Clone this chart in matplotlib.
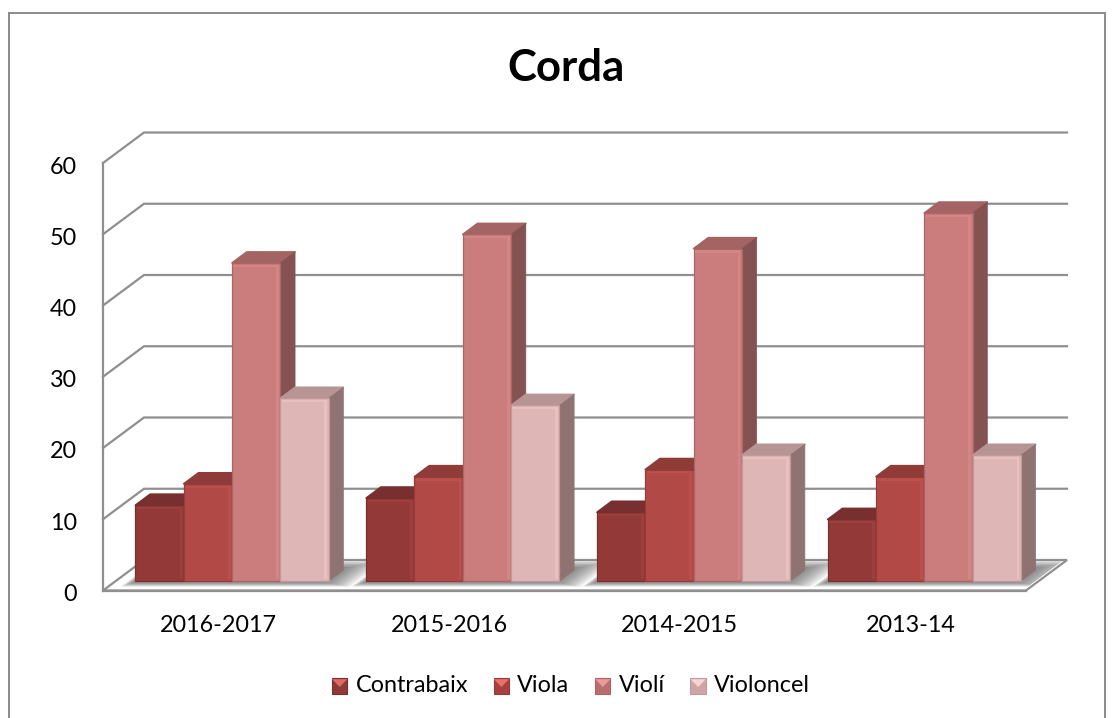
# -*- coding: utf-8 -*-
import matplotlib
matplotlib.use('Agg')
import matplotlib.pyplot as plt
from matplotlib.legend_handler import HandlerBase
from matplotlib.patches import Polygon, Rectangle
from matplotlib.transforms import ScaledTranslation

plt.rcParams['font.family'] = ['Lato', 'DejaVu Sans']

years = ['2016-2017', '2015-2016', '2014-2015', '2013-14']
contrabaix = [11, 12, 10, 9]
viola = [14, 15, 16, 15]
violi = [45, 49, 47, 52]
violoncel = [26, 25, 18, 18]
names = ['Contrabaix', 'Viola', 'Violí', 'Violoncel']
series = [contrabaix, viola, violi, violoncel]
yticks = [0, 10, 20, 30, 40, 50, 60]

front = ['#933a39', '#b14a46', '#cb7c7c', '#dfb6b6']
top = ['#772f2f', '#8f3c39', '#a56464', '#b89595']
side = ['#6b2a2a', '#823633', '#855252', '#8f7373']
edge = ['#7a2f2f', '#933c39', '#a86666', '#c09a9a']
light = ['#9c3f3e', '#bb4f4b', '#d48686', '#e8c0c0']
swatch = ['#8f3a39', '#a8403e', '#b96f6f', '#cfa5a5']
tri_cols = ['#e06a66', '#e8716c', '#ef9a9a', '#f3d7d7']
grey = '#8f8f8f'

W, H = 1114, 718
fig = plt.figure(figsize=(W / 100, H / 100), dpi=100, facecolor='white')
fig.add_artist(Rectangle((9 / W, -0.01), 1096 / W, 1.01 - 13 / H, transform=fig.transFigure,
                         facecolor='none', edgecolor='#8a8a8a', lw=1.4))

ax = fig.add_axes([103 / W, (H - 590.5) / H, 923 / W, 427.5 / H])
ax.patch.set_alpha(0)
ax.set_xlim(0, 4)
ax.set_ylim(0, 60)

# depth of the fake 3d box, in axis units
dx = 41 / 230.75
dy = 30.5 / 7.125
bar_w = 48.3 / 230.75
gap = (1 - 4 * bar_w) / 2 + 0.004
d0, d1 = 0.31, 0.67
inset = 0.35


def skew(x, y, d):
    return (x + d * dx, y + d * dy)


# walls
for v in yticks[1:]:
    ax.plot([0, dx, 4 + dx], [v, v + dy, v + dy], color=grey, lw=1.6, clip_on=False, zorder=1,
            solid_joinstyle='miter')

# floor
floor = [skew(0, 0, 0), skew(4, 0, 0), skew(4, 0, 1), skew(0, 0, 1)]
ax.add_patch(Polygon(floor, closed=True, facecolor='white', edgecolor=grey, lw=1.6, clip_on=False, zorder=2))

# soft shadows on the floor
for g in range(4):
    x0 = g + gap
    x1 = x0 + 4 * bar_w
    for k in range(8):
        m = 0.004 * k + 0.003
        dk = 0.10 + 0.03 * k
        xr = min(x1 + m * 4, 3.985)
        poly = [skew(x0 - m, 0, d0 - dk * 0.6), skew(xr, 0, d0 - dk * 0.6),
                skew(xr, 0, min(d1 + dk, 0.97)), skew(x0 - m, 0, min(d1 + dk, 0.97))]
        ax.add_patch(Polygon(poly, closed=True, facecolor='#505050', edgecolor='none', alpha=0.11,
                             clip_on=False, zorder=3))

# bars, left to right so each one covers the side of the one before
z = 4
for g in range(len(years)):
    for s, vals in enumerate(series):
        v = vals[g] - inset
        x0 = g + gap + s * bar_w
        x1 = x0 + bar_w
        b0 = d0 * dy
        yb = b0 + v
        fx0, fy0 = skew(x0, v, d0)
        fx1, fy1 = skew(x1, v, d0)
        bx0, by0 = skew(x0, v, d1)
        bx1, by1 = skew(x1, v, d1)
        gx1, gy1 = skew(x1, 0, d0)
        hx1, hy1 = skew(x1, 0, d1)
        ax.add_patch(Polygon([(fx0, fy0), (fx1, fy1), (bx1, by1), (bx0, by0)], closed=True,
                             facecolor=top[s], edgecolor=top[s], lw=1.2, joinstyle='round',
                             clip_on=False, zorder=z))
        ax.add_patch(Polygon([(fx1, fy1), (bx1, by1), (hx1, hy1), (gx1, gy1)], closed=True,
                             facecolor=side[s], edgecolor=side[s], lw=0.5, joinstyle='round',
                             clip_on=False, zorder=z))
        ax.bar(fx0, v, width=bar_w, bottom=b0, align='edge', color=front[s], edgecolor=edge[s], lw=0.9,
               clip_on=False, zorder=z + 0.1)
        # bevel highlight on the right and at the top of the front face
        ax.bar(fx1 - 0.018, v - 0.5, width=0.012, bottom=b0 + 0.25, align='edge', color=light[s], lw=0,
               clip_on=False, zorder=z + 0.2)
        ax.bar(fx0 + 0.006, 0.3, width=bar_w - 0.012, bottom=yb - 0.55, align='edge', color=light[s], lw=0,
               clip_on=False, zorder=z + 0.2)
        z += 1

for name in ['top', 'right']:
    ax.spines[name].set_visible(False)
for name in ['left', 'bottom']:
    ax.spines[name].set_color(grey)
    ax.spines[name].set_linewidth(1.6)
    ax.spines[name].set_zorder(2.5)

ax.set_yticks(yticks)
ax.set_xticks([g + 0.5 for g in range(len(years))])
ax.set_xticklabels(years)
ax.tick_params(axis='both', length=0, labelsize=16.8, labelcolor='black')
ax.tick_params(axis='y', pad=18.5)
ax.tick_params(axis='x', pad=18)
# y labels sit a little below their grid lines
for lab in ax.get_yticklabels():
    lab.set_transform(lab.get_transform() + ScaledTranslation(0, -2 / 100, fig.dpi_scale_trans))

fig.text(566 / W, 1 - 68 / H, 'Corda', ha='center', va='center', fontsize=31.5, fontweight='bold', color='black')


class BevelHandler(HandlerBase):
    def __init__(self, tri):
        super().__init__()
        self.tri = tri

    def create_artists(self, legend, orig, xd, yd, width, height, fontsize, trans):
        sq = Rectangle((0, -1), width, width, facecolor=orig.get_facecolor(), edgecolor=orig.get_edgecolor(),
                       lw=0.8, transform=trans)
        pts = [(0.1, width - 1.5), (width - 0.1, width - 1.5), (width / 2, width * 0.45 - 1)]
        return [sq, Polygon(pts, closed=True, facecolor=self.tri, edgecolor='none', transform=trans)]


handles = []
handler_map = {}
for s, name in enumerate(names):
    h = Rectangle((0, 0), 1, 1, facecolor=swatch[s], edgecolor=edge[s])
    handles.append(h)
    handler_map[h] = BevelHandler(tri_cols[s])

fig.legend(handles, names, handler_map=handler_map, loc='center', bbox_to_anchor=(571 / W, 1 - 686 / H),
           ncol=4, frameon=False, fontsize=16.8, handlelength=0.66, handletextpad=0.35, columnspacing=1.1,
           borderpad=0, labelcolor='black')

fig.savefig('out.png', dpi=100)
